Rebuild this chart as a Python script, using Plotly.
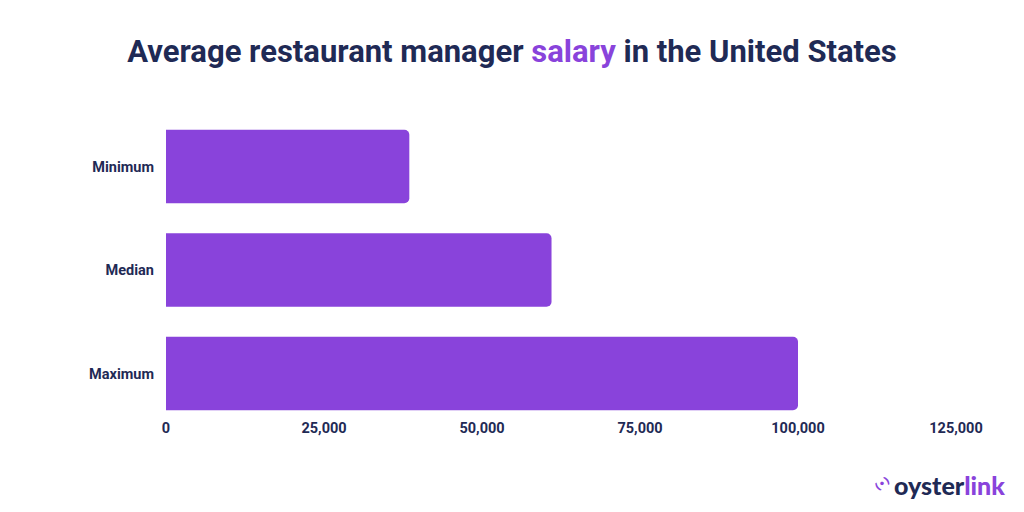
import plotly.graph_objects as go

categories = ["Maximum", "Median", "Minimum"]
salaries = [100000, 61000, 38500]
tick_vals = [0, 25000, 50000, 75000, 100000, 125000]
tick_text = ["0", "25,000", "50,000", "75,000", "100,000", "125,000"]

NAVY = "#1f2a55"
PURPLE = "#8943db"

# page body adds an 8px offset; figure is sized to fill the rest of the window
W, H = 1016, 504
L, R, T, B = 158, 68, 112, 92
PW, PH = W - L - R, H - T - B

fig = go.Figure(go.Bar(
    x=salaries, y=categories, orientation="h",
    marker=dict(color=PURPLE, line=dict(width=0)),
    width=0.71,
))

fig.update_layout(
    width=W, height=H,
    paper_bgcolor="white", plot_bgcolor="white",
    margin=dict(l=L, r=R, t=T, b=B),
    barcornerradius=5,
    showlegend=False,
    font=dict(family="Roboto", color=NAVY),
    title=dict(
        text="<b>Average restaurant manager <span style='color:%s'>salary</span> in the United States</b>" % PURPLE,
        x=(512 - 8) / W, xanchor="center", y=1 - (51 - 8) / H, yanchor="middle",
        font=dict(family="Roboto", size=31, color=NAVY),
    ),
    xaxis=dict(
        range=[0, 125000], tickvals=tick_vals, ticktext=tick_text,
        showgrid=False, zeroline=False, showline=False, ticks="",
        ticklabelstandoff=-3,
        tickfont=dict(family="Roboto", size=14.5, color=NAVY, weight="bold"),
        fixedrange=True,
    ),
    yaxis=dict(
        range=[-0.45, 2.45], showgrid=False, zeroline=False, showline=False,
        ticks="", ticklabelstandoff=11,
        tickfont=dict(family="Roboto", size=14.5, color=NAVY, weight="bold"),
    ),
)

def px_x(x):
    return (x - 8 - L) / PW

def px_y(y):
    return (H - B - (y - 8)) / PH

fig.add_annotation(
    xref="paper", yref="paper",
    x=px_x(1007), y=px_y(485),
    xanchor="right", yanchor="middle", showarrow=False,
    text="<span style='color:%s'>oyster</span><span style='color:%s'>link</span>" % (NAVY, PURPLE),
    font=dict(family="Lato", size=25, weight=900),
)
fig.add_annotation(
    xref="paper", yref="paper",
    x=px_x(882), y=px_y(483),
    xanchor="center", yanchor="middle", showarrow=False,
    text="<b>(•)</b>", textangle=-35,
    font=dict(family="DejaVu Sans", size=10, color=PURPLE),
)

fig.write_html("out.html")
